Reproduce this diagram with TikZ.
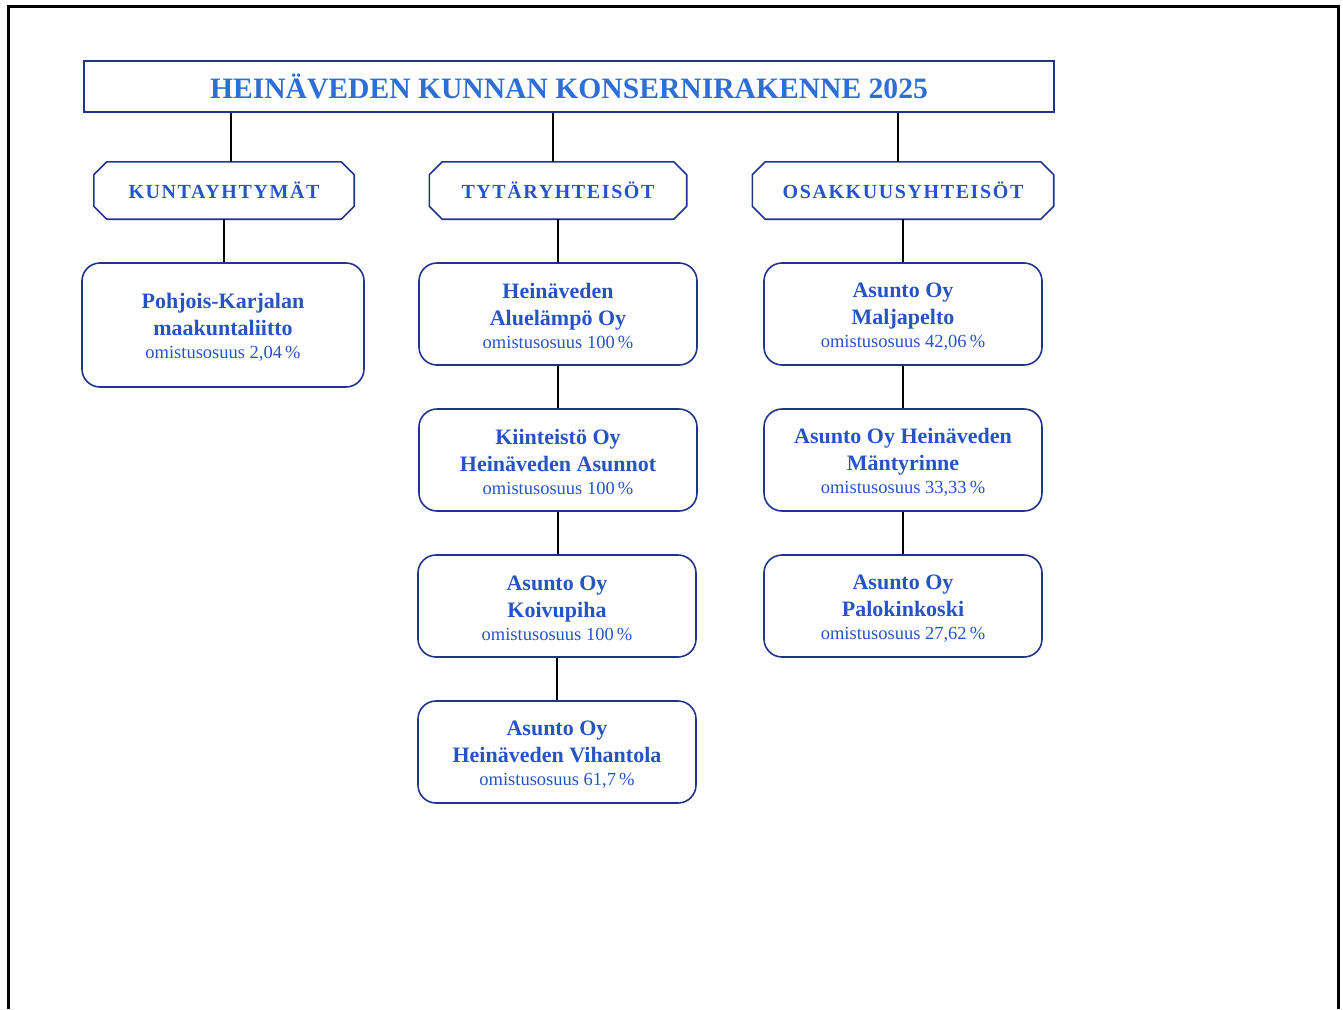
\documentclass[tikz,border=0pt]{standalone}
\usepackage{fontspec}
\setmainfont{Liberation Serif}
\newfontfamily\catfont[LetterSpace=8]{Liberation Serif}
\usetikzlibrary{calc}
\definecolor{txtblue}{RGB}{38,84,196}
\definecolor{ttlblue}{RGB}{45,110,215}
\definecolor{navy}{RGB}{32,52,140}
\tikzset{
  ttlbox/.style={draw=navy,line width=1.6pt,minimum width=970pt,minimum height=51pt,inner sep=0pt,
     text=ttlblue,font=\fontsize{29.6}{34}\selectfont\bfseries},
  catbox/.style={draw=none,minimum height=57pt,inner sep=0pt,text=txtblue,
     font=\catfont\fontsize{20}{24}\selectfont\bfseries},
  catline/.style={draw=navy,line width=1.6pt,line join=round},
  entbox/.style={draw=navy,line width=1.6pt,rounded corners=18pt,minimum width=278pt,minimum height=102pt,
     inner sep=0pt,align=center,text=txtblue,font=\fontsize{22}{27}\selectfont\bfseries},
  conn/.style={draw=black,line width=1.8pt},
  frame/.style={draw=black,line width=3pt}
}
\newcommand\up{\rule{0pt}{19.5pt}}
\newcommand\pct[1]{\\[-4pt]{\mdseries\fontsize{18.5}{23}\selectfont omistusosuus #1\,\%}}
\newcommand\octo[1]{%
  \draw[catline] ($(#1.north west)+(13,0)$) -- ($(#1.north east)+(-13,0)$) -- ($(#1.north east)+(0,13)$)
   -- ($(#1.south east)+(0,-13)$) -- ($(#1.south east)+(-13,0)$) -- ($(#1.south west)+(13,0)$)
   -- ($(#1.south west)+(0,-13)$) -- ($(#1.north west)+(0,13)$) -- cycle;}
\begin{document}
\begin{tikzpicture}[x=1pt,y=-1pt]
\useasboundingbox (0,0) rectangle (1343,1009);
\draw[frame] (8,1009) -- (8,6) -- (1338,6) -- (1338,1009);

\node[ttlbox] (title) at (569,86.5) {HEINÄVEDEN KUNNAN KONSERNIRAKENNE 2025};

\node[catbox,minimum width=260pt] (kun) at (224,190.5) {KUNTAYHTYMÄT};
\node[catbox,minimum width=257pt] (tyt) at (558,190.5) {TYTÄRYHTEISÖT};
\node[catbox,minimum width=301pt] (osa) at (903,190.5) {OSAKKUUSYHTEISÖT};
\octo{kun}\octo{tyt}\octo{osa}

\node[entbox,minimum width=282pt,minimum height=124pt] (pk) at (223,325)
  {\up Pohjois-Karjalan\\maakuntaliitto\pct{2,04}};

\node[entbox] (t1) at (558,314) {\up Heinäveden\\Aluelämpö Oy\pct{100}};
\node[entbox] (t2) at (558,460) {\up Kiinteistö Oy\\Heinäveden Asunnot\pct{100}};
\node[entbox] (t3) at (557,606) {\up Asunto Oy\\Koivupiha\pct{100}};
\node[entbox] (t4) at (557,752) {\up Asunto Oy\\Heinäveden Vihantola\pct{61,7}};

\node[entbox] (o1) at (903,314) {\up Asunto Oy\\Maljapelto\pct{42,06}};
\node[entbox] (o2) at (903,460) {\up Asunto Oy Heinäveden\\Mäntyrinne\pct{33,33}};
\node[entbox] (o3) at (903,606) {\up Asunto Oy\\Palokinkoski\pct{27,62}};

\draw[conn] ([xshift=7pt]kun.north) -- ([xshift=7pt]kun.north |- title.south);
\draw[conn] ([xshift=-5pt]tyt.north) -- ([xshift=-5pt]tyt.north |- title.south);
\draw[conn] ([xshift=-5pt]osa.north) -- ([xshift=-5pt]osa.north |- title.south);

\draw[conn] (kun.south) -- (kun.south |- pk.north);
\draw[conn] (tyt.south) -- (tyt.south |- t1.north);
\draw[conn] (osa.south) -- (osa.south |- o1.north);
\draw[conn] (t1.south) -- (t1.south |- t2.north);
\draw[conn] (t2.south) -- (t2.south |- t3.north);
\draw[conn] (t3.south) -- (t3.south |- t4.north);
\draw[conn] (o1.south) -- (o1.south |- o2.north);
\draw[conn] (o2.south) -- (o2.south |- o3.north);
\end{tikzpicture}
\end{document}
